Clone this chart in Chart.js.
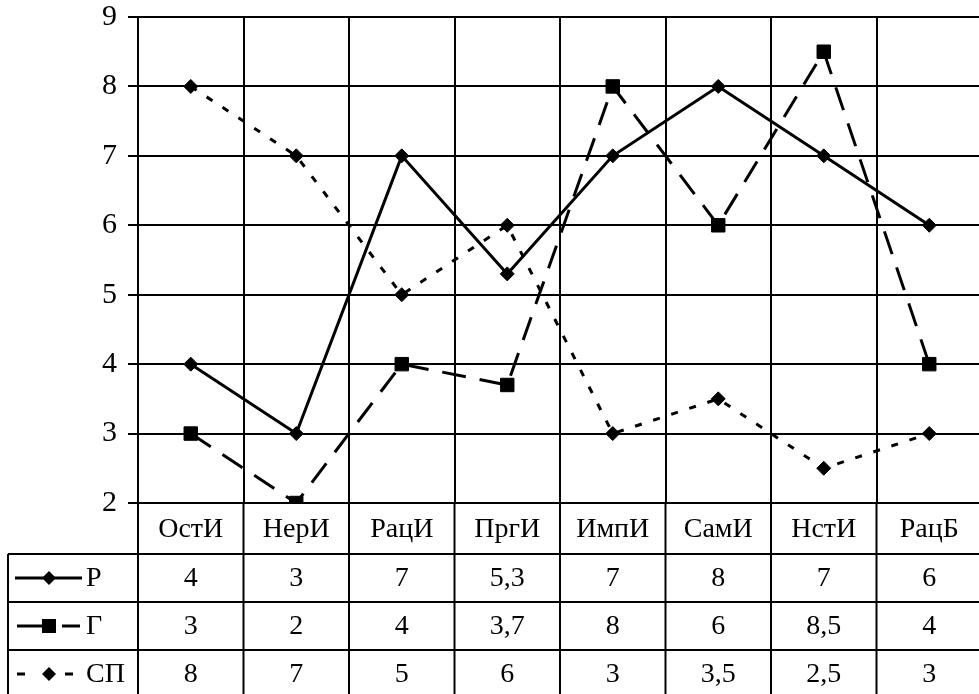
<!DOCTYPE html>
<html>
<head>
<meta charset="utf-8">
<script src="https://cdn.jsdelivr.net/npm/chart.js@4"></script>
<style>
  html, body { margin: 0; background: #fff; overflow: hidden; }
  canvas { display: block; }
</style>
</head>
<body>
<canvas id="graphe" width="984" height="694"></canvas>
<script>
const categories = ["ОстИ", "НерИ", "РацИ", "ПргИ", "ИмпИ", "СамИ", "НстИ", "РацБ"];
const seriesNames = ["Р", "Г", "СП"];
const valeursP = [4, 3, 7, 5.3, 7, 8, 7, 6];
const valeursG = [3, 2, 4, 3.7, 8, 6, 8.5, 4];
const valeursSP = [8, 7, 5, 6, 3, 3.5, 2.5, 3];
const yTicks = [2, 3, 4, 5, 6, 7, 8, 9];

const police = "'Liberation Serif', 'Times New Roman', serif";
const noir = "#000";

// virgule decimale comme sur l'original
const fmt = v => String(v).replace(".", ",");

const tableau = {
  id: "tableauDonnees",
  afterDraw(chart) {
    const ctx = chart.ctx;
    const ca = chart.chartArea;
    const xs = chart.scales.x;
    const n = categories.length;
    const hautEntete = 51;
    const hautLigne = 48;
    const gauche = 8;
    const basTable = ca.bottom + hautEntete + hautLigne * 3 + 4;
    const debutLignes = ca.bottom + hautEntete;

    let bords = [];
    for (let i = 0; i <= n; i++) {
      if (i == 0) bords.push(ca.left);
      else if (i == n) bords.push(ca.right);
      else bords.push((xs.getPixelForValue(i - 1) + xs.getPixelForValue(i)) / 2);
    }

    ctx.save();
    ctx.strokeStyle = noir;
    ctx.lineWidth = 2;
    ctx.setLineDash([]);

    const trait = (x1, y1, x2, y2) => {
      ctx.beginPath();
      ctx.moveTo(x1, y1);
      ctx.lineTo(x2, y2);
      ctx.stroke();
    };

    bords.forEach(x => trait(x, ca.bottom, x, basTable));
    trait(gauche, debutLignes, gauche, basTable);
    for (let r = 0; r <= 3; r++) {
      let y = debutLignes + r * hautLigne;
      trait(gauche, y, ca.right, y);
    }

    ctx.fillStyle = noir;
    ctx.font = "28px " + police;
    ctx.textAlign = "center";
    ctx.textBaseline = "middle";

    for (let i = 0; i < n; i++) {
      let cx = xs.getPixelForValue(i);
      ctx.fillText(categories[i], cx, ca.bottom + hautEntete / 2 + 1);
    }

    const lignes = [valeursP, valeursG, valeursSP];
    for (let r = 0; r < 3; r++) {
      let cy = debutLignes + r * hautLigne + hautLigne / 2 + 1;
      for (let i = 0; i < n; i++) {
        ctx.fillText(fmt(lignes[r][i]), xs.getPixelForValue(i), cy);
      }
    }

    // petites legendes a gauche
    ctx.textAlign = "left";
    ctx.lineWidth = 3;
    const losange = (x, y, r) => {
      ctx.beginPath();
      ctx.moveTo(x, y - r);
      ctx.lineTo(x + r, y);
      ctx.lineTo(x, y + r);
      ctx.lineTo(x - r, y);
      ctx.closePath();
      ctx.fill();
    };

    let y0 = debutLignes + hautLigne / 2;
    trait(15, y0, 82, y0);
    losange(49, y0, 7);
    ctx.fillText(seriesNames[0], 86, y0 + 1);

    let y1 = y0 + hautLigne;
    trait(17, y1, 42, y1);
    trait(62, y1, 80, y1);
    ctx.fillRect(42, y1 - 7, 14, 14);
    ctx.fillText(seriesNames[1], 86, y1 + 1);

    let y2 = y1 + hautLigne;
    trait(17, y2, 25, y2);
    trait(65, y2, 73, y2);
    losange(49, y2, 7);
    ctx.fillText(seriesNames[2], 86, y2 + 1);

    ctx.restore();
  }
};

let graph = document.getElementById("graphe").getContext("2d");

const config = {
  type: "line",
  data: {
    labels: categories,
    datasets: [
      {
        label: seriesNames[0],
        data: valeursP,
        borderColor: noir,
        backgroundColor: noir,
        borderWidth: 3,
        pointStyle: "rectRot",
        pointRadius: 7,
        pointBorderWidth: 1,
        tension: 0
      },
      {
        label: seriesNames[1],
        data: valeursG,
        borderColor: noir,
        backgroundColor: noir,
        borderWidth: 3,
        borderDash: [24, 14],
        pointStyle: "rect",
        pointRadius: 9.5,
        pointBorderWidth: 1,
        tension: 0
      },
      {
        label: seriesNames[2],
        data: valeursSP,
        borderColor: noir,
        backgroundColor: noir,
        borderWidth: 3,
        borderDash: [7, 12],
        pointStyle: "rectRot",
        pointRadius: 7,
        pointBorderWidth: 1,
        tension: 0
      }
    ]
  },
  options: {
    responsive: false,
    animation: false,
    layout: { autoPadding: false, padding: { top: 17, right: 2, bottom: 191, left: 0 } },
    plugins: {
      legend: { display: false },
      tooltip: { enabled: false }
    },
    scales: {
      x: {
        offset: true,
        grid: { offset: true, color: noir, lineWidth: 2, drawTicks: false },
        border: { color: noir, width: 2 },
        ticks: { display: false },
        afterFit: s => { s.height = 0; s.paddingLeft = 0; s.paddingRight = 0; }
      },
      y: {
        min: 2,
        max: 9,
        afterBuildTicks: s => { s.ticks = yTicks.map(v => ({ value: v })); },
        grid: { color: noir, lineWidth: 2, tickLength: 10 },
        border: { color: noir, width: 2 },
        ticks: { color: noir, font: { family: police, size: 30 }, padding: 11 },
        afterFit: s => { s.width = 138; s.paddingTop = 0; s.paddingBottom = 0; }
      }
    }
  },
  plugins: [tableau]
};

const chartTable = new Chart(graph, config);
</script>
</body>
</html>
